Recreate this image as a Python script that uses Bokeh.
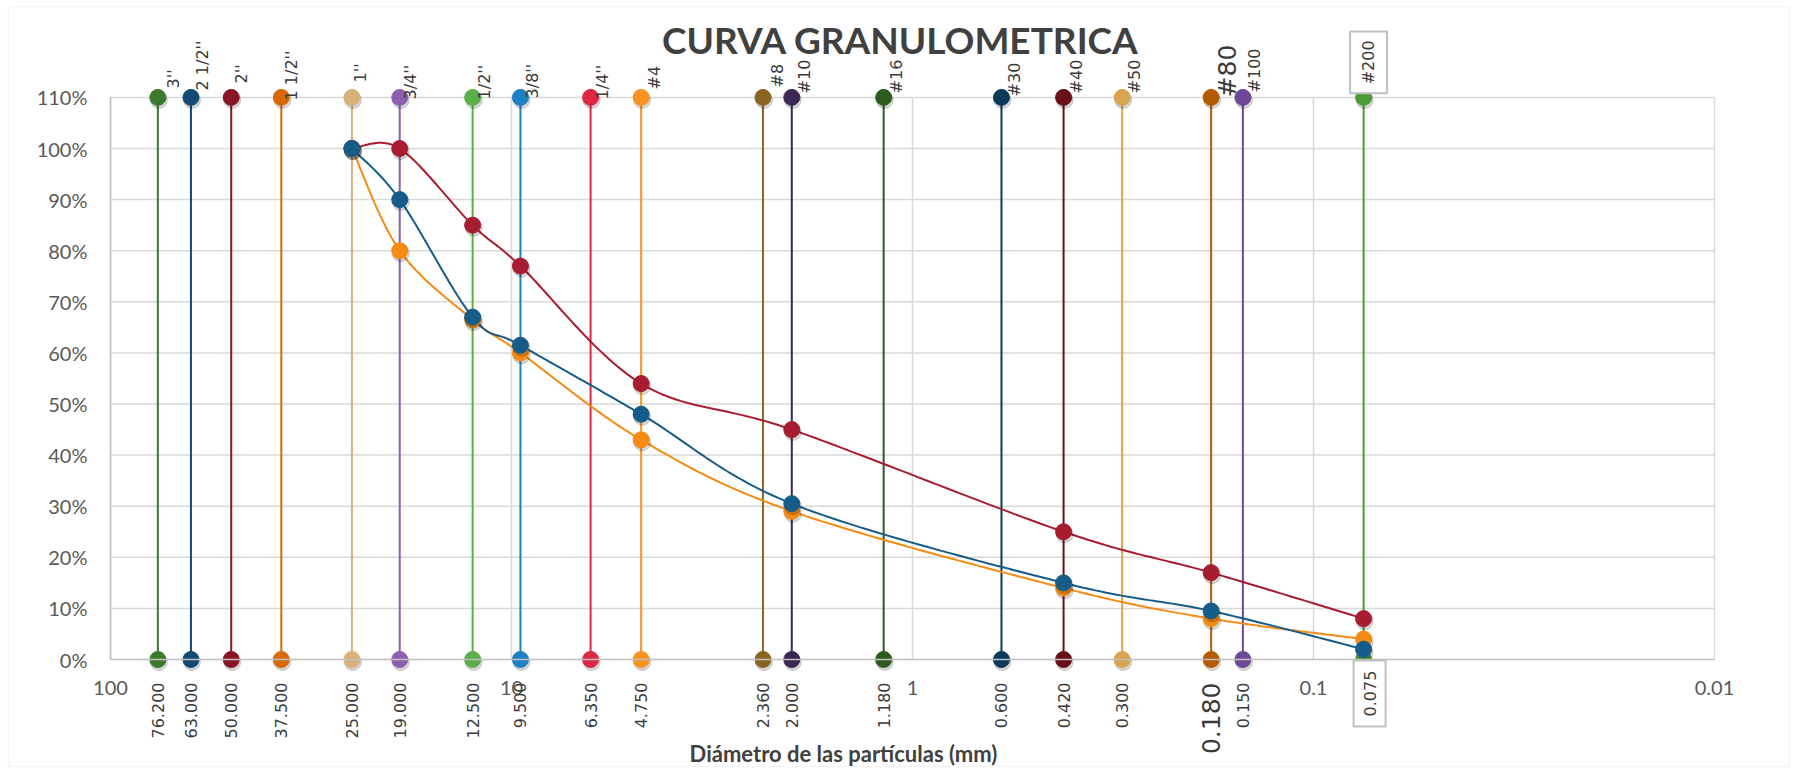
import math
from bokeh.plotting import figure
from bokeh.models import Range1d, FixedTicker, NumeralTickFormatter, Label, BoxAnnotation
from bokeh.embed import file_html
from bokeh.resources import INLINE

# ---------------- data ----------------
sieve_names = ["3''", "2 1/2''", "2''", "1 1/2''", "1''", "3/4''", "1/2''", "3/8''", "1/4''",
               "#4", "#8", "#10", "#16", "#30", "#40", "#50", "#80", "#100", "#200"]
sieve_mm = [76.2, 63.0, 50.0, 37.5, 25.0, 19.0, 12.5, 9.5, 6.35,
            4.75, 2.36, 2.0, 1.18, 0.6, 0.42, 0.3, 0.18, 0.15, 0.075]
sieve_mm_labels = ["76.200", "63.000", "50.000", "37.500", "25.000", "19.000", "12.500", "9.500", "6.350",
                   "4.750", "2.360", "2.000", "1.180", "0.600", "0.420", "0.300", "0.180", "0.150", "0.075"]

curve_mm = [25.0, 19.0, 12.5, 9.5, 4.75, 2.0, 0.42, 0.18, 0.075]
pass_red = [1.00, 1.00, 0.85, 0.77, 0.54, 0.45, 0.25, 0.17, 0.08]
pass_blue = [1.00, 0.90, 0.67, 0.615, 0.48, 0.305, 0.15, 0.095, 0.02]
pass_orange = [1.00, 0.80, 0.665, 0.60, 0.43, 0.29, 0.14, 0.08, 0.04]

x_ticks = [100, 10, 1, 0.1, 0.01]
x_tick_labels = ["100", "10", "1", "0.1", "0.01"]
y_ticks = [0.0, 0.1, 0.2, 0.3, 0.4, 0.5, 0.6, 0.7, 0.8, 0.9, 1.0, 1.1]
y_top = 1.1
y_bottom = 0.0

# ---------------- styles ----------------
sieve_colors = ["#3B7A2C", "#114B73", "#8A1526", "#D86A00", "#D9B07A", "#8C5FB0", "#5BAF48", "#1C80C4",
                "#DC2840", "#F7931E", "#8A6420", "#3A2755", "#2E5C1E", "#0A3B58", "#6A0E1A", "#D9A44E",
                "#B45A00", "#6E4896", "#4C9A38"]
# offsets of the upper labels (px, x right / y up) and font sizes
top_dx = [16, 12, 10, 10, 9, 11, 12, 12, 12, 13, 15, 13, 13, 13, 13, 12, 16, 12, 5]
top_dy = [9, 7, 14, -3, 15, -2, -2, -1, -2, 8, 10, 4, 4, 1, 4, 4, 0, 5, 35]
top_fs = ["16px"] * 16 + ["25px", "16px", "16px"]
bot_fs = ["16px"] * 16 + ["25px", "16px", "16px"]
red_c, blue_c, orange_c = "#A81C30", "#165C89", "#F58B12"
grid_c = "#D9D9D9"
axis_c = "#BFBFBF"
txt_c = "#3A3A3A"

# ---------------- layout (pixels) ----------------
CANVAS_W, CANVAS_H = 1798, 768
PX_PER_UNIT = 511.0          # vertical pixels for 100 %
BELOW_ZERO_PX = 109          # room under the 0 % line for the rotated labels
LEFT_OF_100_PX = 110         # room left of the x = 100 line for the % labels
DECADE_PX = 401.0            # horizontal pixels per decade
y_start = -BELOW_ZERO_PX / PX_PER_UNIT
y_end = y_start + CANVAS_H / PX_PER_UNIT
u_left = math.log10(max(x_ticks)) + LEFT_OF_100_PX / DECADE_PX
u_right = u_left - CANVAS_W / DECADE_PX

# drop-shadow shift of the markers (px right / px down)
SH_DX, SH_DY = 1.0, 2.5
sh_fx = 10 ** (-SH_DX / DECADE_PX)
sh_dy = -SH_DY / PX_PER_UNIT

p = figure(width=CANVAS_W, height=CANVAS_H, x_axis_type="log",
           x_range=Range1d(10 ** u_left, 10 ** u_right), y_range=Range1d(y_start, y_end),
           output_backend="svg", toolbar_location=None, title_location=None,
           min_border_left=0, min_border_right=0, min_border_top=0, min_border_bottom=0)
p.outline_line_color = None
p.background_fill_color = "white"
p.border_fill_color = "white"

# chart-area border (screen units measured from the frame's lower-left corner)
p.add_layout(BoxAnnotation(left=8, right=1789, bottom=2, top=762,
                           left_units="screen", right_units="screen",
                           bottom_units="screen", top_units="screen",
                           fill_color=None, line_color="#D9D9D9", line_width=1.5, level="underlay"))

# axes (fixed inside the frame so nothing gets clipped)
p.xaxis.ticker = FixedTicker(ticks=x_ticks, minor_ticks=[])
p.xaxis.major_label_overrides = {t: l for t, l in zip(x_ticks, x_tick_labels)}
p.xaxis.fixed_location = y_bottom
p.xaxis.bounds = (min(x_ticks), max(x_ticks))
p.yaxis.ticker = FixedTicker(ticks=y_ticks, minor_ticks=[])
p.yaxis.formatter = NumeralTickFormatter(format="0%")
p.yaxis.fixed_location = max(x_ticks)
p.yaxis.bounds = (y_bottom, y_top)
for ax in (p.xaxis[0], p.yaxis[0]):
    ax.axis_line_color = axis_c
    ax.axis_line_width = 1.5
    ax.major_tick_out = 0
    ax.major_tick_in = 0
    ax.minor_tick_out = 0
    ax.minor_tick_in = 0
    ax.major_label_text_font = "Lato"
    ax.major_label_text_font_size = "20px"
    ax.major_label_text_color = "#595959"
p.xaxis.major_label_standoff = 21
p.yaxis.major_label_standoff = 23

p.xgrid.visible = False
p.ygrid.visible = False

# grid lines only over the data area
n_t = len(x_ticks)
p.segment(x0=x_ticks, y0=[y_bottom] * n_t, x1=x_ticks, y1=[y_top] * n_t,
          line_color=grid_c, line_width=1.5)
gy = y_ticks[1:]
p.segment(x0=[max(x_ticks)] * len(gy), y0=gy, x1=[min(x_ticks)] * len(gy), y1=gy,
          line_color=grid_c, line_width=1.5)

# sieve lines with end markers
n = len(sieve_mm)
p.segment(x0=sieve_mm, y0=[y_bottom] * n, x1=sieve_mm, y1=[y_top] * n,
          line_color=sieve_colors, line_width=2)
sh_x = [v * sh_fx for v in sieve_mm]
p.scatter(sh_x, [y_bottom + sh_dy] * n, size=17, color="black", alpha=0.16)
p.scatter(sh_x, [y_top + sh_dy] * n, size=17, color="black", alpha=0.16)
p.scatter(sieve_mm, [y_bottom] * n, size=16, color=sieve_colors)
p.scatter(sieve_mm, [y_top] * n, size=16, color=sieve_colors)


def smooth(xs, ys, steps=30):
    us = [math.log10(v) for v in xs]
    m = len(us)
    out_x, out_y = [], []
    for i in range(m - 1):
        i0 = max(i - 1, 0)
        i3 = min(i + 2, m - 1)
        c1u = us[i] + (us[i + 1] - us[i0]) / 6.0
        c1y = ys[i] + (ys[i + 1] - ys[i0]) / 6.0
        c2u = us[i + 1] - (us[i3] - us[i]) / 6.0
        c2y = ys[i + 1] - (ys[i3] - ys[i]) / 6.0
        for k in range(steps + (1 if i == m - 2 else 0)):
            t = k / steps
            a, b, c, d = (1 - t) ** 3, 3 * (1 - t) ** 2 * t, 3 * (1 - t) * t ** 2, t ** 3
            u = a * us[i] + b * c1u + c * c2u + d * us[i + 1]
            y = a * ys[i] + b * c1y + c * c2y + d * ys[i + 1]
            out_x.append(10 ** u)
            out_y.append(y)
    return out_x, out_y


for ys, col in ((pass_orange, orange_c), (pass_blue, blue_c), (pass_red, red_c)):
    sx, sy = smooth(curve_mm, ys)
    p.line(sx, sy, line_color=col, line_width=2)
for ys, col in ((pass_orange, orange_c), (pass_red, red_c), (pass_blue, blue_c)):
    p.scatter([v * sh_fx for v in curve_mm], [v + sh_dy for v in ys], size=17, color="black", alpha=0.16)
    p.scatter(curve_mm, ys, size=16, color=col)

# sieve labels
for i in range(n):
    last = (i == n - 1)
    if last:
        kw = dict(border_line_color=axis_c, border_line_width=2, background_fill_color="white",
                  padding=9, text_align="center")
    else:
        kw = dict(text_align="left")
    p.add_layout(Label(x=sieve_mm[i], y=y_top, text=sieve_names[i], angle=math.pi / 2,
                       x_offset=top_dx[i], y_offset=top_dy[i], text_baseline="middle",
                       text_font="DejaVu Sans", text_font_size=top_fs[i], text_color=txt_c, **kw))
    if last:
        kwb = dict(border_line_color=axis_c, border_line_width=2, background_fill_color="white",
                   padding=10, text_align="center")
        xo, yo = 6, -34
    else:
        kwb = dict(text_align="right")
        xo, yo = 0, -23
    p.add_layout(Label(x=sieve_mm[i], y=y_bottom, text=sieve_mm_labels[i], angle=math.pi / 2,
                       x_offset=xo, y_offset=yo, text_baseline="middle",
                       text_font="DejaVu Sans", text_font_size=bot_fs[i], text_color=txt_c, **kwb))

# titles (screen units are measured from the frame's lower-left corner)
p.add_layout(Label(x=900, y=729, x_units="screen", y_units="screen", text="CURVA GRANULOMETRICA",
                   text_font="Lato", text_font_style="bold", text_font_size="37px",
                   text_color="#404040", text_align="center", text_baseline="alphabetic"))
p.add_layout(Label(x=843, y=15, x_units="screen", y_units="screen", text="Diámetro de las partículas (mm)",
                   text_font="Lato", text_font_style="bold", text_font_size="22px",
                   text_color="#404040", text_align="center", text_baseline="alphabetic"))

open("out.html", "w").write(file_html(p, INLINE))
